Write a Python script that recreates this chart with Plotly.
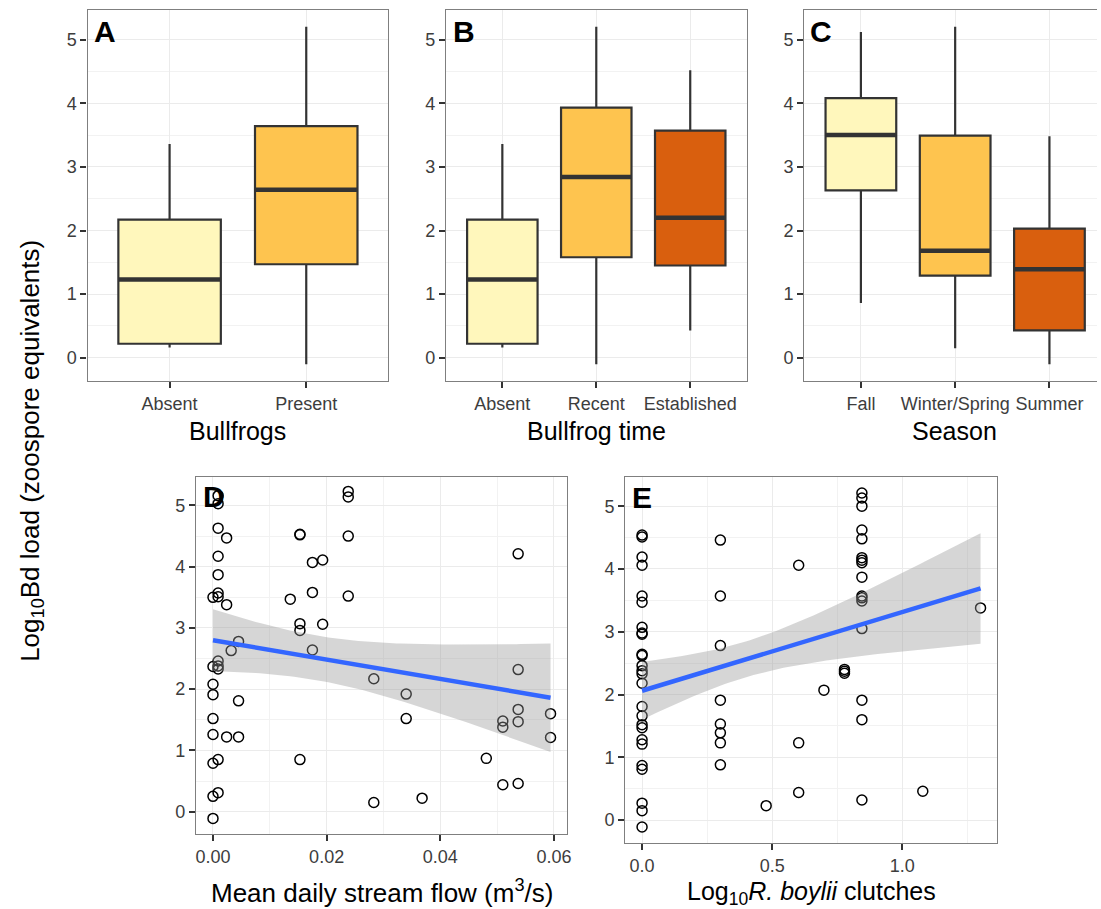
import numpy as np
import plotly.graph_objects as go

W, H = 1101, 909
FONT = "Liberation Sans, Arial, sans-serif"

# ---------------- data ----------------
bull_cats = ["Absent", "Present"]
bull_low = [0.16, -0.10]
bull_q1 = [0.22, 1.47]
bull_med = [1.23, 2.64]
bull_q3 = [2.17, 3.64]
bull_high = [3.36, 5.20]

time_cats = ["Absent", "Recent", "Established"]
time_low = [0.16, -0.10, 0.43]
time_q1 = [0.22, 1.58, 1.45]
time_med = [1.23, 2.84, 2.20]
time_q3 = [2.17, 3.93, 3.57]
time_high = [3.36, 5.20, 4.52]

season_cats = ["Fall", "Winter/Spring", "Summer"]
season_low = [0.86, 0.15, -0.10]
season_q1 = [2.63, 1.29, 0.43]
season_med = [3.50, 1.68, 1.39]
season_q3 = [4.08, 3.49, 2.03]
season_high = [5.12, 5.20, 3.48]

box_colors = ["#FFF7BC", "#FEC44F", "#D95F0E"]

flow_x = [0.0009, 0.0009, 0.0009, 0.0024, 0.0009, 0.0009, 0.0009, 0.0009, 0.0, 0.0024,
          0.0045, 0.0032, 0.0009, 0.0009, 0.0009, 0.0, 0.0, 0.0, 0.0045, 0.0,
          0.0, 0.0024, 0.0045, 0.0009, 0.0, 0.0009, 0.0, 0.0,
          0.0153, 0.0153, 0.0136, 0.0175, 0.0193, 0.0175, 0.0238, 0.0238, 0.0238, 0.0238,
          0.0153, 0.0153, 0.0193, 0.0175, 0.0153, 0.0283, 0.0283, 0.0340, 0.0340, 0.0368,
          0.0481, 0.0510, 0.0510, 0.0510, 0.0537, 0.0537, 0.0537, 0.0537, 0.0537, 0.0594, 0.0594]
flow_y = [5.16, 5.03, 4.63, 4.47, 4.17, 3.87, 3.57, 3.51, 3.50, 3.38,
          2.78, 2.63, 2.46, 2.38, 2.33, 2.37, 2.08, 1.91, 1.81, 1.52,
          1.26, 1.22, 1.22, 0.85, 0.79, 0.31, 0.25, -0.11,
          4.52, 4.53, 3.47, 4.07, 4.11, 3.58, 5.23, 5.14, 4.50, 3.52,
          3.07, 2.96, 3.06, 2.64, 0.85, 2.17, 0.15, 1.92, 1.52, 0.22,
          0.87, 1.48, 1.38, 0.44, 4.21, 2.32, 1.67, 1.47, 0.46, 1.60, 1.21]
# linear fit + 95% band read at the ends of the x range (left, right)
flow_fit = [2.80, 1.86]
flow_band_up = [3.29, 2.75]
flow_band_lo = [2.28, 0.98]

clutch_x = [0.0, 0.0, 0.0, 0.0, 0.0, 0.0, 0.0, 0.0, 0.0, 0.0, 0.0, 0.0, 0.0,
            0.0, 0.0, 0.0, 0.0, 0.0, 0.0, 0.0, 0.0, 0.0, 0.0, 0.0, 0.0, 0.0,
            0.301, 0.301, 0.301, 0.301, 0.301, 0.301, 0.301, 0.301,
            0.477,
            0.602, 0.602, 0.602,
            0.699,
            0.778, 0.778, 0.778,
            0.845, 0.845, 0.845, 0.845, 0.845, 0.845, 0.845, 0.845,
            0.845, 0.845, 0.845, 0.845, 0.845, 0.845, 0.845, 0.845,
            1.079,
            1.301]
clutch_y = [4.54, 4.51, 4.19, 4.06, 3.57, 3.47, 3.07, 2.98, 2.96, 2.64, 2.62, 2.46, 2.38,
            2.33, 2.18, 1.81, 1.66, 1.52, 1.47, 1.28, 1.21, 0.87, 0.81, 0.27, 0.15, -0.11,
            4.46, 3.57, 2.78, 1.91, 1.53, 1.39, 1.23, 0.88,
            0.23,
            4.06, 1.23, 0.44,
            2.07,
            2.40, 2.37, 2.34,
            5.21, 5.13, 5.00, 4.62, 4.48, 4.18, 4.14, 4.10,
            3.87, 3.57, 3.54, 3.49, 3.05, 1.91, 1.60, 0.32,
            0.46,
            3.38]
clutch_fit = [2.06, 3.69]
clutch_band_up = [2.54, 4.57]
clutch_band_lo = [1.62, 2.81]

y_ticks = [0, 1, 2, 3, 4, 5]
flow_ticks = [0.0, 0.02, 0.04, 0.06]
flow_ticktext = ["0.00", "0.02", "0.04", "0.06"]
clutch_ticks = [0.0, 0.5, 1.0]
clutch_ticktext = ["0.0", "0.5", "1.0"]

# ---------------- helpers ----------------
def px(x):
    return x / W

def py(y):
    return 1 - y / H

YR = [-0.365, 5.465]
BOXW = 0.75

fig = go.Figure()


def add_boxes(axn, cats, low, q1, med, q3, high):
    xa = "x" if axn == 1 else f"x{axn}"
    ya = "y" if axn == 1 else f"y{axn}"
    for i in range(len(cats)):
        pos = i + 1
        fig.add_trace(go.Box(
            x=[pos], q1=[q1[i]], median=[med[i]], q3=[q3[i]],
            lowerfence=[low[i]], upperfence=[high[i]],
            width=BOXW, whiskerwidth=0, boxpoints=False,
            fillcolor=box_colors[i], line=dict(color="#333333", width=2.2),
            xaxis=xa, yaxis=ya, showlegend=False, hoverinfo="skip"))
        fig.add_trace(go.Scatter(
            x=[pos - BOXW / 2, pos + BOXW / 2], y=[med[i], med[i]], mode="lines",
            line=dict(color="#333333", width=4.5), xaxis=xa, yaxis=ya,
            showlegend=False, hoverinfo="skip"))


add_boxes(1, bull_cats, bull_low, bull_q1, bull_med, bull_q3, bull_high)
add_boxes(2, time_cats, time_low, time_q1, time_med, time_q3, time_high)
add_boxes(3, season_cats, season_low, season_q1, season_med, season_q3, season_high)


def add_scatter_fit(axn, xs, ys, fit_ends, up_ends, lo_ends):
    xa, ya = f"x{axn}", f"y{axn}"
    x = np.asarray(xs, float)
    y = np.asarray(ys, float)
    fig.add_trace(go.Scatter(
        x=x, y=y, mode="markers",
        marker=dict(symbol="circle-open", size=10, color="black", line=dict(width=1.5)),
        xaxis=xa, yaxis=ya, showlegend=False, hoverinfo="skip"))
    x_ends = [x.min(), x.max()]
    xm = x.mean()
    grid = np.linspace(x_ends[0], x_ends[1], 80)
    fit = np.interp(grid, x_ends, fit_ends)
    # confidence band of a linear fit: half-width grows as sqrt(A + B (x - mean)^2)
    h0 = (up_ends[0] - lo_ends[0]) / 2
    h1 = (up_ends[1] - lo_ends[1]) / 2
    d0 = (x_ends[0] - xm) ** 2
    d1 = (x_ends[1] - xm) ** 2
    B = (h1 ** 2 - h0 ** 2) / (d1 - d0)
    A = h0 ** 2 - B * d0
    h = np.sqrt(np.maximum(A + B * (grid - xm) ** 2, 0))
    up, lo = fit + h, fit - h
    fig.add_trace(go.Scatter(
        x=np.concatenate([grid, grid[::-1]]), y=np.concatenate([up, lo[::-1]]),
        fill="toself", fillcolor="rgba(153,153,153,0.4)", line=dict(width=0),
        mode="lines", xaxis=xa, yaxis=ya, showlegend=False, hoverinfo="skip"))
    fig.add_trace(go.Scatter(
        x=grid, y=fit, mode="lines", line=dict(color="#3366FF", width=4.5),
        xaxis=xa, yaxis=ya, showlegend=False, hoverinfo="skip"))


add_scatter_fit(4, flow_x, flow_y, flow_fit, flow_band_up, flow_band_lo)
add_scatter_fit(5, clutch_x, clutch_y, clutch_fit, clutch_band_up, clutch_band_lo)

# ---------------- axes ----------------
tickfont = dict(size=18, color="#3D3D3D", family=FONT)
base = dict(showline=True, linecolor="#7F7F7F", linewidth=1.3, mirror=True,
            ticks="outside", ticklen=6, tickwidth=2, tickcolor="#333333",
            showgrid=True, gridcolor="#EBEBEB", gridwidth=1.2, zeroline=False,
            tickfont=tickfont, fixedrange=True)
yaxis_common = dict(base, range=YR, tickmode="array", tickvals=y_ticks,
                    ticktext=[str(v) for v in y_ticks],
                    minor=dict(dtick=0.5, tick0=0, showgrid=True, gridcolor="#F2F2F2", gridwidth=0.7))

top_y = [py(381), py(10)]
layout = dict(
    width=W, height=H, margin=dict(l=0, r=0, t=0, b=0),
    paper_bgcolor="white", plot_bgcolor="white", showlegend=False,
    font=dict(family=FONT),
    xaxis=dict(base, domain=[px(87), px(389)], range=[0.4, 2.6], tickmode="array",
               tickvals=[1, 2], ticktext=bull_cats, anchor="y"),
    yaxis=dict(yaxis_common, domain=top_y, anchor="x"),
    xaxis2=dict(base, domain=[px(447), px(749)], range=[0.4, 3.6], tickmode="array",
                tickvals=[1, 2, 3], ticktext=time_cats, anchor="y2"),
    yaxis2=dict(yaxis_common, domain=top_y, anchor="x2"),
    xaxis3=dict(base, domain=[px(807), 1.0], range=[0.4, 0.4 + (W - 807) / 94.7], tickmode="array",
                tickvals=[1, 2, 3], ticktext=season_cats, anchor="y3"),
    yaxis3=dict(yaxis_common, domain=top_y, anchor="x3", mirror=False),
    xaxis4=dict(base, domain=[px(196), px(569)], range=[-0.00297, 0.06237], tickmode="array",
                tickvals=flow_ticks, ticktext=flow_ticktext, anchor="y4",
                minor=dict(dtick=0.01, tick0=0, showgrid=True, gridcolor="#F2F2F2", gridwidth=0.7)),
    yaxis4=dict(yaxis_common, domain=[py(834), py(477)], anchor="x4"),
    xaxis5=dict(base, domain=[px(627), px(1001)], range=[-0.065, 1.366], tickmode="array",
                tickvals=clutch_ticks, ticktext=clutch_ticktext, anchor="y5",
                minor=dict(dtick=0.25, tick0=0, showgrid=True, gridcolor="#F2F2F2", gridwidth=0.7)),
    yaxis5=dict(yaxis_common, domain=[py(843), py(477)], anchor="x5"),
)
fig.update_layout(**layout)

# ---------------- annotations ----------------
ann = []
title_font = dict(size=25, color="black", family=FONT)
for text, xc, yc in [("Bullfrogs", 238, 431), ("Bullfrog time", 598, 431), ("Season", 958, 431)]:
    ann.append(dict(text=text, x=px(xc), y=py(yc), xref="paper", yref="paper",
                    xanchor="center", yanchor="middle", showarrow=False, font=title_font))
ann.append(dict(text="Mean daily stream flow (m<sup>3</sup>/s)", x=px(382.5), y=py(891),
                xref="paper", yref="paper", xanchor="center", yanchor="middle",
                showarrow=False, font=dict(title_font, size=26)))
ann.append(dict(text="Log<sub>10</sub><i>R. boylii</i> clutches", x=px(814), y=py(893),
                xref="paper", yref="paper", xanchor="center", yanchor="middle",
                showarrow=False, font=dict(title_font, size=25)))
ann.append(dict(text="Log<sub>10</sub>Bd load (zoospore equivalents)", x=px(30), y=py(451),
                xref="paper", yref="paper", xanchor="center", yanchor="middle",
                textangle=-90, showarrow=False, font=dict(title_font, size=26)))
letter_font = dict(size=30, color="black", family=FONT)
for letter, xl, yc in [("A", 91, 31), ("B", 452, 31), ("C", 811, 31), ("D", 201, 496), ("E", 632, 497)]:
    ann.append(dict(text=f"<b>{letter}</b>", x=px(xl), y=py(yc), xref="paper", yref="paper",
                    xanchor="left", yanchor="middle", showarrow=False, font=letter_font))
fig.update_layout(annotations=ann)

fig.write_html("out.html")
